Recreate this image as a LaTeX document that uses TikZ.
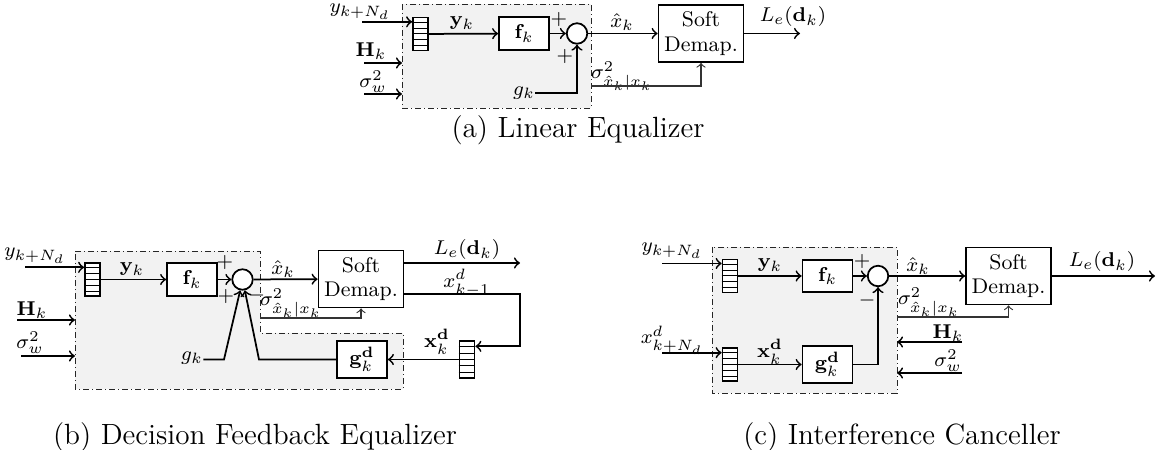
\documentclass[tikz,border=0pt]{standalone}
\usetikzlibrary{calc}
\newcommand{\bufcells}[1]{\foreach \i in {1,...,5}{\draw[line width=0.4pt] ($(#1.north west)!\i/6!(#1.south west)$) -- ($(#1.north east)!\i/6!(#1.south east)$);}}
\begin{document}
\begin{tikzpicture}[x=0.4pt,y=-0.4pt,
  lw/.style={line width=0.7pt},
  conn/.style={lw,->},
  sigline/.style={line width=0.45pt,->,draw=black!80},
  region/.style={draw=black!85,line width=0.35pt,dash pattern=on 2.4pt off 1.2pt on 0.4pt off 1.2pt,fill=black!5},
  blk/.style={draw,lw,fill=white,inner sep=1pt,align=center,font=\fontsize{8.5}{9.8}\selectfont},
  fbox/.style={blk,minimum width=20pt,minimum height=13pt},
  gbox/.style={blk,minimum width=20pt,minimum height=14.8pt},
  sdbox/.style={blk,minimum width=34pt,minimum height=22.8pt},
  sumc/.style={draw,lw,circle,fill=white,minimum size=8.2pt,inner sep=0pt},
  buf/.style={draw,lw,fill=white,minimum width=6pt,minimum height=13.2pt,inner sep=0pt},
  lbl/.style={inner sep=0pt,font=\fontsize{8.5}{9.8}\selectfont},
  captxt/.style={inner sep=0pt,font=\fontsize{11.7}{13.5}\selectfont},
]
\useasboundingbox (0,0) rectangle (1163,450);

% ================= (a) =================
\draw[region] (402,4) rectangle (591,108);
\node[buf] (bufa) at (420.5,34) {}; \bufcells{bufa}
\node[fbox] (fa) at (524,33.5) {$\mathbf{f}_k$};
\node[sumc] (sa) at (577,33.5) {};
\node[sdbox] (sda) at (701,33.5) {Soft\\Demap.};

\node[lbl] (la1) at (360,12) {$y_{k+N_d}$};
\coordinate (pa) at ($(bufa.north west)!0.15!(bufa.south west)$);
\coordinate (ina) at (362,0);
\draw[conn] (ina |- pa) -- (pa);

\node[lbl] (lHa) at (371,51) {$\mathbf{H}_k$};
\coordinate (Ha0) at (364,63); \coordinate (Ha1) at (402,63);
\draw[conn] (Ha0) -- (Ha1);
\node[lbl] (lsa) at (373,82) {$\sigma_w^2$};
\coordinate (swa0) at (364,94); \coordinate (swa1) at (402,94);
\draw[conn] (swa0) -- (swa1);

\draw[conn] (bufa) -- (fa);
\node[lbl] (lya) at (462,23) {$\mathbf{y}_k$};
\draw[conn] (fa) -- (sa);
\node[lbl] (pa1) at (559,20) {$+$};
\node[lbl] (pa2) at (565,57) {$+$};
\node[lbl] (ga) at (524,93) {$g_k$};
\draw[conn] (ga.east) -| (sa.south);
\draw[conn] (sa) -- (sda);
\node[lbl] (lxa) at (622,22) {$\hat{x}_k$};
\node[lbl] (lsiga) at (622,76) {$\sigma^2_{\hat{x}_k|x_k}$};
\coordinate (siga) at (591,86);
\draw[sigline] (siga) -| (sda.south);
\coordinate (outa) at (800,33.5);
\draw[conn] (sda) -- (outa);
\node[lbl] (lLa) at (793,17) {$L_e(\mathbf{d}_k)$};
\node[captxt] (capa) at (578,130) {(a) Linear Equalizer};

% ================= (b) =================
\draw[region] (75,251) -- (260,251) -- (260,333) -- (403,333) -- (403,389) -- (75,389) -- cycle;
\node[buf] (bufb) at (92.5,279.5) {}; \bufcells{bufb}
\node[fbox] (fb) at (192,279.5) {$\mathbf{f}_k$};
\node[sumc] (sb) at (242.5,279.5) {};
\node[sdbox] (sdb) at (361,279) {Soft\\Demap.};
\node[buf,minimum height=14.8pt] (bufb2) at (467,359.5) {}; \bufcells{bufb2}
\node[gbox] (gb) at (362,359.5) {$\mathbf{g}^{\mathbf{d}}_k$};

\node[lbl] (lyb) at (35,256) {$y_{k+N_d}$};
\coordinate (pb) at ($(bufb.north west)!0.15!(bufb.south west)$);
\coordinate (inb) at (25,0);
\draw[conn] (inb |- pb) -- (pb);
\node[lbl] (lHb) at (32,310) {$\mathbf{H}_k$};
\coordinate (Hb0) at (17,320); \coordinate (Hb1) at (75,320);
\draw[conn] (Hb0) -- (Hb1);
\node[lbl] (lsb) at (30,343) {$\sigma_w^2$};
\coordinate (swb0) at (21,356); \coordinate (swb1) at (75,356);
\draw[conn] (swb0) -- (swb1);

\draw[conn] (bufb) -- (fb);
\node[lbl] (lyb2) at (132,269) {$\mathbf{y}_k$};
\draw[conn] (fb) -- (sb);
\node[lbl] (pb1) at (225,263) {$+$};
\node[lbl] (pb2) at (226,297) {$+$};
\node[lbl] (mb1) at (257,296) {$-$};
\draw[conn] (sb) -- (sdb);
\node[lbl] (lxb) at (283,269) {$\hat{x}_k$};
\node[lbl] (lsigb) at (291,303) {$\sigma^2_{\hat{x}_k|x_k}$};
\coordinate (sigb) at (260,318);
\draw[sigline] (sigb) -| (sdb.south);
\coordinate (outb) at (520,263);
\draw[conn] (outb -| sdb.east) -- (outb);
\node[lbl] (lLb) at (467,250) {$L_e(\mathbf{d}_k)$};
\node[lbl] (lxdb) at (467,283) {$x^d_{k-1}$};
\coordinate (fbk) at (520,294);
\coordinate (pb2in) at ($(bufb2.north east)!0.16!(bufb2.south east)$);
\draw[conn] (fbk -| sdb.east) -- (fbk) |- (pb2in);
\node[lbl] (lxdkb) at (437,342) {$\mathbf{x}^{\mathbf{d}}_k$};
\draw[conn] (bufb2) -- (gb);
\node[lbl] (gbl) at (192,358) {$g_k$};
\coordinate (gkb) at (224,359.5);
\draw[conn] (gbl.east |- gkb) -- (gkb) -- (sb.258);
\coordinate (fbb) at (259,359.5);
\draw[conn] (gb.west) -- (fbb) -- (sb.282);
\node[captxt] (capb) at (255,437) {(b) Decision Feedback Equalizer};

% ================= (c) =================
\draw[region] (712,247) rectangle (897,393);
\node[buf] (bufc1) at (730,276) {}; \bufcells{bufc1}
\node[buf] (bufc2) at (730,364.5) {}; \bufcells{bufc2}
\node[fbox] (fc) at (827.5,276) {$\mathbf{f}_k$};
\node[gbox] (gc) at (827.5,364.5) {$\mathbf{g}^{\mathbf{d}}_k$};
\node[sumc] (sc) at (878,276) {};
\node[sdbox] (sdc) at (1008.5,276) {Soft\\Demap.};

\node[lbl] (lyc) at (672,251) {$y_{k+N_d}$};
\coordinate (pc1) at ($(bufc1.north west)!0.14!(bufc1.south west)$);
\coordinate (inc1) at (662,0);
\draw[conn] (inc1 |- pc1) -- (pc1);
\node[lbl] (lxc) at (672,340) {$x^d_{k+N_d}$};
\coordinate (pc2) at ($(bufc2.north west)!0.16!(bufc2.south west)$);
\draw[conn] (inc1 |- pc2) -- (pc2);

\draw[conn] (bufc1) -- (fc);
\node[lbl] (lyc2) at (770,265) {$\mathbf{y}_k$};
\draw[conn] (bufc2) -- (gc);
\node[lbl] (lxdc) at (770,352) {$\mathbf{x}^{\mathbf{d}}_k$};
\draw[conn] (fc) -- (sc);
\node[lbl] (pc1l) at (862,262) {$+$};
\node[lbl] (mc1) at (867,301) {$-$};
\draw[conn] (gc) -| (sc.south);
\draw[conn] (sc) -- (sdc);
\node[lbl] (lxhc) at (918,266) {$\hat{x}_k$};
\coordinate (outc) at (1155,276);
\draw[conn] (sdc) -- (outc);
\node[lbl] (lLc) at (1102,262) {$L_e(\mathbf{d}_k)$};
\node[lbl] (lsigc) at (929,302) {$\sigma^2_{\hat{x}_k|x_k}$};
\coordinate (sigc) at (897,317);
\draw[sigline] (sigc) -| (sdc.south);
\node[lbl] (lHc) at (948,333) {$\mathbf{H}_k$};
\coordinate (Hc0) at (962,342); \coordinate (Hc1) at (897,342);
\draw[conn] (Hc0) -- (Hc1);
\node[lbl] (lswc) at (948,361) {$\sigma_w^2$};
\coordinate (swc0) at (962,373); \coordinate (swc1) at (897,373);
\draw[conn] (swc0) -- (swc1);
\node[captxt] (capc) at (902,437) {(c) Interference Canceller};
\end{tikzpicture}
\end{document}
